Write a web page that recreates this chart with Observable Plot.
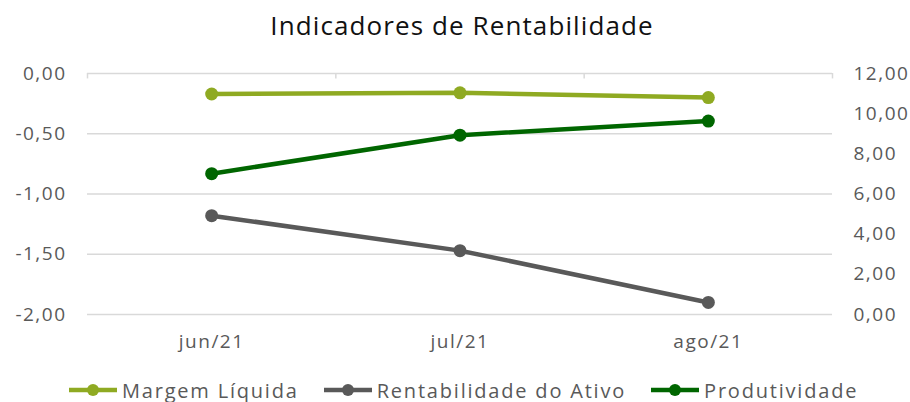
<!DOCTYPE html>
<html><head><meta charset="utf-8">
<script src="https://cdn.jsdelivr.net/npm/d3@7"></script>
<script src="https://cdn.jsdelivr.net/npm/@observablehq/plot@0.6"></script>
<style>
body{margin:0;background:#fff;font-family:"Open Sans",sans-serif;width:910px;height:402px;overflow:hidden;}
#title{height:45px;line-height:51px;text-align:center;padding-left:14px;box-sizing:border-box;font-size:26px;letter-spacing:1.1px;color:#111;}
#chart{height:320px;}
#legend{display:flex;justify-content:flex-start;align-items:center;height:37px;padding-left:68px;padding-top:13px;box-sizing:border-box;font-size:20px;letter-spacing:1.8px;color:#595959;}
.item{display:flex;align-items:center;margin-right:24px;white-space:nowrap;}
.item svg{margin-right:4px;}
</style></head><body>
<div id="title">Indicadores de Rentabilidade</div>
<div id="chart"></div>
<div id="legend"></div>
<script>
const categories = ["jun/21", "jul/21", "ago/21"];
const margemLiquida = [-0.17, -0.16, -0.20];          // eixo esquerdo
const rentabilidadeAtivo = [-1.18, -1.47, -1.90];     // eixo esquerdo
const produtividade = [7.01, 8.93, 9.63];             // eixo direito
const leftTicks = [0, -0.5, -1, -1.5, -2];
const rightTicks = [0, 2, 4, 6, 8, 10, 12];
const seriesNames = ["Margem Líquida", "Rentabilidade do Ativo", "Produtividade"];
const seriesColors = ["#8FAA22", "#595959", "#006600"];

const locale = d3.formatLocale({decimal: ",", thousands: ".", grouping: [3], currency: ["R$", ""], minus: "-"});
const fmt = locale.format(".2f");
// secondary axis 0..12 mapped onto primary -2..0
const toLeft = v => v / 6 - 2;
const fromLeft = y => Math.round((y + 2) * 6 * 100) / 100;

const rows = [];
categories.forEach((c, i) => {
  rows.push({i, series: seriesNames[0], y: margemLiquida[i]});
  rows.push({i, series: seriesNames[1], y: rentabilidadeAtivo[i]});
  rows.push({i, series: seriesNames[2], y: toLeft(produtividade[i])});
});

const x0 = -0.5, x1 = categories.length - 0.5;
const chart = Plot.plot({
  width: 910, height: 320,
  marginLeft: 87, marginRight: 78, marginTop: 28, marginBottom: 51,
  style: {fontFamily: "'Open Sans', sans-serif", color: "#595959", background: "#fff", letterSpacing: "1.5px"},
  x: {type: "linear", domain: [x0, x1], axis: null},
  y: {domain: [-2, 0], axis: null},
  color: {domain: seriesNames, range: seriesColors},
  marks: [
    Plot.ruleY(leftTicks, {stroke: "#d9d9d9", strokeWidth: 1.5}),
    Plot.ruleX(d3.range(x0, x1 + 0.01, 1), {y1: 0, y2: -0.045, stroke: "#d9d9d9", strokeWidth: 1.5}),
    Plot.axisY(leftTicks, {anchor: "left", label: null, tickSize: 0, tickPadding: 21, tickFormat: fmt, fontSize: 19}),
    Plot.axisY(rightTicks.map(toLeft), {anchor: "right", label: null, tickSize: 0, tickPadding: 21, tickFormat: d => fmt(fromLeft(d)), fontSize: 19}),
    Plot.axisX([0, 1, 2], {anchor: "bottom", label: null, tickSize: 0, tickPadding: 20, tickFormat: i => categories[i], fontSize: 19}),
    Plot.line(rows, {x: "i", y: "y", z: "series", stroke: "series", strokeWidth: 4.5}),
    Plot.dot(rows, {x: "i", y: "y", fill: "series", r: 6.5})
  ]
});
document.getElementById("chart").appendChild(chart);

const legend = document.getElementById("legend");
seriesNames.forEach((name, k) => {
  const item = document.createElement("div");
  item.className = "item";
  item.innerHTML = `<svg width="50" height="16"><line x1="1" x2="49" y1="8" y2="8" stroke="${seriesColors[k]}" stroke-width="4.5"/><circle cx="25" cy="8" r="6" fill="${seriesColors[k]}"/></svg>`;
  const span = document.createElement("span");
  span.textContent = name;
  item.appendChild(span);
  legend.appendChild(item);
});
</script>
</body></html>
